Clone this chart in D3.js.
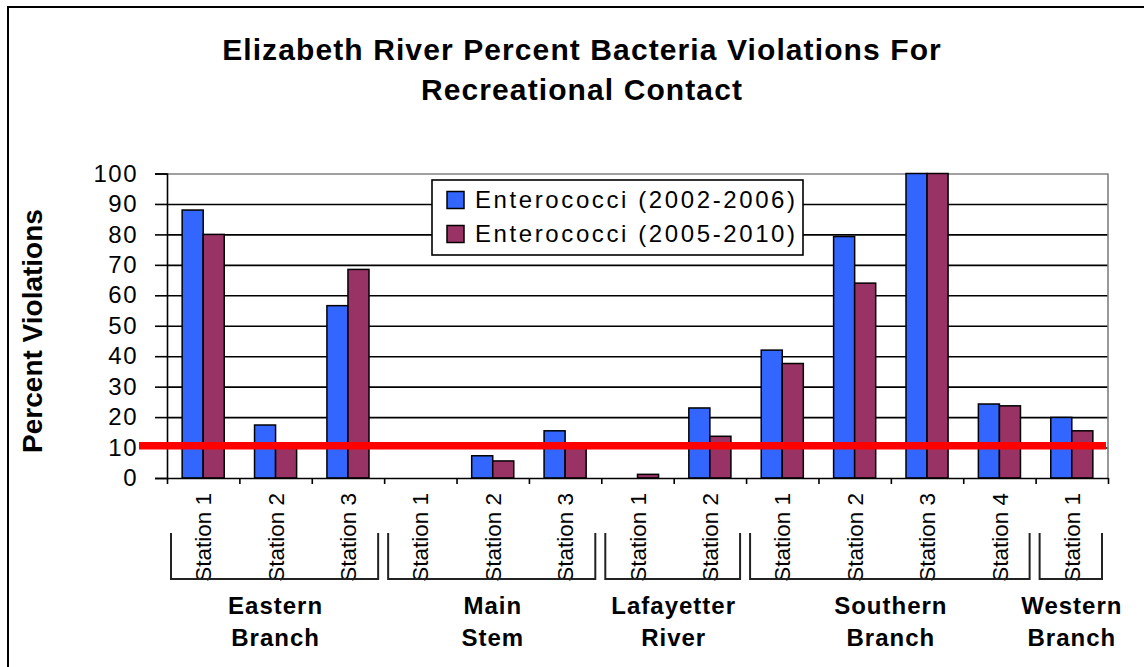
<!DOCTYPE html>
<html>
<head>
<meta charset="utf-8">
<script src="https://cdn.jsdelivr.net/npm/d3@7"></script>
<style>
  body { margin: 0; background: #fff; }
  svg { display: block; font-family: "Liberation Sans", Arial, sans-serif; }
</style>
</head>
<body>
<svg id="chart" width="1144" height="667"></svg>
<script>
// ---- data ----
const stationNames = ['Station 1', 'Station 2', 'Station 3', 'Station 1', 'Station 2', 'Station 3',
  'Station 1', 'Station 2', 'Station 1', 'Station 2', 'Station 3', 'Station 4', 'Station 1'];
const stationGroups = ['Eastern Branch', 'Eastern Branch', 'Eastern Branch', 'Main Stem', 'Main Stem', 'Main Stem',
  'Lafayetter River', 'Lafayetter River', 'Southern Branch', 'Southern Branch', 'Southern Branch', 'Southern Branch',
  'Western Branch'];
const groupNames = ['Eastern Branch', 'Main Stem', 'Lafayetter River', 'Southern Branch', 'Western Branch'];
const seriesNames = ['Enterococci (2002-2006)', 'Enterococci (2005-2010)'];
const entero2002 = [88, 17.4, 56.6, 0, 7.3, 15.5, 0, 23, 42, 79.3, 100, 24.3, 19.9];
const entero2005 = [80, 10, 68.5, 0, 5.6, 10, 1.2, 13.7, 37.6, 64, 100, 23.7, 15.5];
const yTicks = [0, 10, 20, 30, 40, 50, 60, 70, 80, 90, 100];
const thresholdValue = 10.6;

const W = 1144, H = 667;
const COLORS = ['#3366ff', '#993366'];
const margin = { top: 173.5, right: 36, bottom: 189, left: 167 };
const innerW = W - margin.left - margin.right;
const innerH = H - margin.top - margin.bottom;

const svg = d3.select('#chart');

// outer chart border (runs off the right/bottom edge like the original)
svg.append('rect')
  .attr('x', 8).attr('y', 7)
  .attr('width', W + 20).attr('height', H + 20)
  .attr('fill', 'none').attr('stroke', '#000').attr('stroke-width', 2);

// ---- title ----
svg.append('text')
  .attr('x', 582).attr('y', 60)
  .attr('text-anchor', 'middle')
  .attr('font-size', 30).attr('font-weight', 'bold')
  .attr('letter-spacing', 1.1)
  .selectAll('tspan')
  .data(['Elizabeth River Percent Bacteria Violations For', 'Recreational Contact'])
  .join('tspan')
  .attr('x', 582)
  .attr('dy', (d, i) => i ? 40 : 0)
  .text(d => d);

const g = svg.append('g').attr('transform', `translate(${margin.left},${margin.top})`);

// ---- scales ----
const x = d3.scaleBand().domain(d3.range(stationNames.length)).range([0, innerW]);
const xEdge = d3.scaleLinear().domain([0, stationNames.length]).range([0, innerW]);
const xSub = d3.scaleBand().domain([0, 1]).range([0, x.bandwidth()]).paddingOuter(0.72);
const y = d3.scaleLinear().domain([0, 100]).range([innerH, 0]);

// ---- grid ----
g.append('g')
  .call(d3.axisLeft(y).tickValues(yTicks.filter(v => v > 0)).tickSize(-innerW).tickFormat(() => ''))
  .call(a => a.select('.domain').remove())
  .selectAll('line')
  .attr('stroke', d => d === 100 ? '#808080' : '#000')
  .attr('stroke-width', 1.6);

// right border of plot area
g.append('line')
  .attr('x1', innerW).attr('x2', innerW)
  .attr('y1', 0).attr('y2', innerH)
  .attr('stroke', '#808080').attr('stroke-width', 1.6);

// ---- bars ----
const series = [entero2002, entero2005];
const cats = g.selectAll('.cat')
  .data(d3.range(stationNames.length))
  .join('g')
  .attr('class', 'cat')
  .attr('transform', i => `translate(${x(i)},0)`);

cats.selectAll('rect')
  .data(i => series.map((s, k) => ({ k, v: s[i] })))
  .join('rect')
  .filter(d => d.v > 0)
  .attr('x', d => xSub(d.k))
  .attr('width', xSub.bandwidth())
  .attr('y', d => y(d.v))
  .attr('height', d => innerH - y(d.v))
  .attr('fill', d => COLORS[d.k])
  .attr('stroke', '#000')
  .attr('stroke-width', 1.5);

// ---- axes ----
g.append('g')
  .call(d3.axisLeft(y).tickValues(yTicks).tickSize(12).tickPadding(17))
  .call(a => a.select('.domain').attr('stroke', '#000').attr('stroke-width', 1.6))
  .call(a => a.selectAll('line').attr('stroke', '#000').attr('stroke-width', 1.6))
  .call(a => a.selectAll('text')
    .attr('font-family', '"Liberation Sans", Arial, sans-serif')
    .attr('font-size', 24).attr('letter-spacing', 1.5).attr('fill', '#000'));

g.append('g')
  .attr('transform', `translate(0,${innerH})`)
  .call(d3.axisBottom(xEdge).ticks(stationNames.length).tickSize(6).tickSizeOuter(0).tickFormat(() => ''))
  .call(a => a.select('.domain').attr('stroke', '#000').attr('stroke-width', 1.6))
  .call(a => a.selectAll('line').attr('stroke', '#000').attr('stroke-width', 1.6));

// ---- threshold line ----
g.append('line')
  .attr('x1', -28).attr('x2', innerW - 2)
  .attr('y1', y(thresholdValue)).attr('y2', y(thresholdValue))
  .attr('stroke', '#ff0000').attr('stroke-width', 7.5);

// ---- station labels ----
g.append('g')
  .selectAll('text')
  .data(stationNames)
  .join('text')
  .attr('transform', (d, i) => `translate(${x(i) + x.bandwidth() / 2},${innerH + 15}) rotate(-90)`)
  .attr('text-anchor', 'end')
  .attr('dy', '0.36em')
  .attr('font-size', 22.5)
  .text(d => d);

// ---- group brackets + labels ----
const groupSpans = groupNames.map(name => {
  const idx = d3.range(stationNames.length).filter(i => stationGroups[i] === name);
  return { name, x0: x(idx[0]), x1: x(idx[idx.length - 1]) + x.bandwidth() };
});

const grp = g.append('g').selectAll('g').data(groupSpans).join('g');
grp.append('path')
  .attr('d', d => `M${d.x0 + 4},${innerH + 55}V${innerH + 101}H${d.x1 - 6}V${innerH + 55}`)
  .attr('fill', 'none').attr('stroke', '#222').attr('stroke-width', 2);

grp.append('text')
  .attr('text-anchor', 'middle')
  .attr('font-size', 24).attr('font-weight', 'bold').attr('letter-spacing', 1)
  .selectAll('tspan')
  .data(d => d.name.split(' ').map(w => ({ w, cx: (d.x0 + d.x1) / 2 })))
  .join('tspan')
  .attr('x', d => d.cx)
  .attr('y', (d, i) => innerH + 136 + i * 32)
  .text(d => d.w);

// ---- y axis title ----
svg.append('text')
  .attr('transform', 'translate(42,331) rotate(-90)')
  .attr('text-anchor', 'middle')
  .attr('font-size', 28).attr('font-weight', 'bold')
  .text('Percent Violations');

// ---- legend ----
const legend = svg.append('g').attr('transform', 'translate(432,180)');
legend.append('rect')
  .attr('width', 371).attr('height', 75)
  .attr('fill', '#fff').attr('stroke', '#000').attr('stroke-width', 1.6);
const items = legend.selectAll('.item')
  .data(seriesNames)
  .join('g')
  .attr('class', 'item')
  .attr('transform', (d, i) => `translate(15,${20 + i * 34})`);
items.append('rect')
  .attr('y', -8.5).attr('width', 17).attr('height', 17)
  .attr('fill', (d, i) => COLORS[i])
  .attr('stroke', '#000').attr('stroke-width', 1.5);
items.append('text')
  .attr('x', 28).attr('dy', '0.35em')
  .attr('font-size', 24).attr('letter-spacing', 2.6)
  .text(d => d);
</script>
</body>
</html>
